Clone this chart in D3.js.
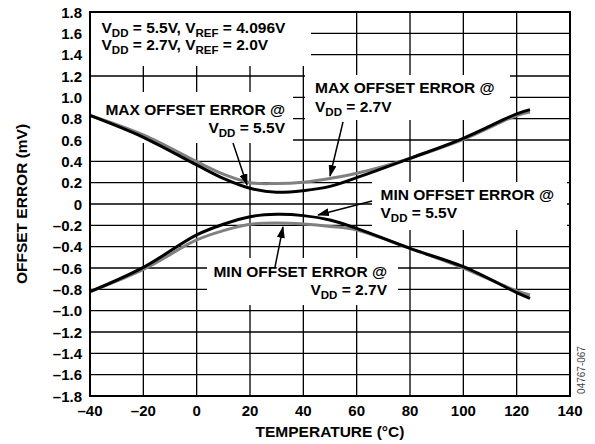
<!DOCTYPE html>
<html>
<head>
<meta charset="utf-8">
<script src="https://cdn.jsdelivr.net/npm/d3@7"></script>
<style>
  body { margin: 0; background: #fff; }
  svg text { font-family: "Liberation Sans", Arial, sans-serif; font-weight: bold; }
</style>
</head>
<body>
<div id="chart"></div>
<script>
// Daten
const temps = [-40, -20, 0, 10, 20, 30, 40, 50, 60, 80, 100, 120, 125];
const maxVdd55 = [0.83, 0.625, 0.366, 0.24, 0.147, 0.11, 0.125, 0.165, 0.247, 0.428, 0.616, 0.845, 0.885];
const maxVdd27 = [0.83, 0.647, 0.397, 0.28, 0.20, 0.192, 0.205, 0.24, 0.288, 0.428, 0.605, 0.83, 0.862];
const minVdd55 = [-0.822, -0.594, -0.29, -0.19, -0.119, -0.097, -0.109, -0.15, -0.228, -0.416, -0.588, -0.83, -0.884];
const minVdd27 = [-0.822, -0.613, -0.337, -0.25, -0.19, -0.178, -0.188, -0.21, -0.244, -0.416, -0.60, -0.815, -0.853];
const xTicks = [-40, -20, 0, 20, 40, 60, 80, 100, 120, 140];
const yTicks = d3.range(-9, 10).map(i => i * 0.2);

const width = 595, height = 444;
const margin = { left: 90, right: 25, top: 12, bottom: 48 };
const innerW = width - margin.left - margin.right;
const innerH = height - margin.top - margin.bottom;

const svg = d3.select("#chart").append("svg")
    .attr("width", width)
    .attr("height", height);

const x = d3.scaleLinear().domain([-40, 140]).range([margin.left, margin.left + innerW]);
const y = d3.scaleLinear().domain([-1.8, 1.8]).range([margin.top + innerH, margin.top]);

const fmt = v => {
    const s = Math.abs(v).toFixed(1);
    return (v < -1e-9 ? "\u2013" : "") + (Math.abs(v) < 1e-9 ? "0" : s);
};

// Gitter
svg.append("g").selectAll("line").data(xTicks.slice(1, -1)).join("line")
    .attr("x1", d => x(d)).attr("x2", d => x(d))
    .attr("y1", y(1.8)).attr("y2", y(-1.8))
    .attr("stroke", "#000").attr("stroke-width", 1.3);
svg.append("g").selectAll("line").data(yTicks.slice(1, -1)).join("line")
    .attr("x1", x(-40)).attr("x2", x(140))
    .attr("y1", d => y(d)).attr("y2", d => y(d))
    .attr("stroke", "#000").attr("stroke-width", 1.3);

// Weiße Kästen hinter den Beschriftungen
const boxes = [
    [91, 13, 220, 53],
    [91, 92, 202, 51],
    [305, 75, 205, 45],
    [372, 182, 195, 48],
    [207, 258, 191, 47]
];
svg.append("g").selectAll("rect").data(boxes).join("rect")
    .attr("x", d => d[0]).attr("y", d => d[1])
    .attr("width", d => d[2]).attr("height", d => d[3])
    .attr("fill", "#fff");

// Kurven
const line = d3.line()
    .x((d, i) => x(temps[i]))
    .y(d => y(d))
    .curve(d3.curveCatmullRom.alpha(0.5));

const series = [
    { vals: maxVdd27, color: "#808080" },
    { vals: maxVdd55, color: "#000" },
    { vals: minVdd27, color: "#808080" },
    { vals: minVdd55, color: "#000" }
];
svg.append("g").selectAll("path").data(series).join("path")
    .attr("d", d => line(d.vals))
    .attr("fill", "none")
    .attr("stroke", d => d.color)
    .attr("stroke-width", 3);

// Rahmen
svg.append("rect")
    .attr("x", margin.left).attr("y", margin.top)
    .attr("width", innerW).attr("height", innerH)
    .attr("fill", "none").attr("stroke", "#000").attr("stroke-width", 2);

// Achsenbeschriftungen
svg.append("g").selectAll("text").data(yTicks).join("text")
    .attr("x", 82).attr("y", d => y(d) + 5.5)
    .attr("text-anchor", "end")
    .attr("font-size", 15)
    .text(fmt);
svg.append("g").selectAll("text").data(xTicks).join("text")
    .attr("x", d => x(d)).attr("y", 415.5)
    .attr("text-anchor", "middle")
    .attr("font-size", 15)
    .text(d => (d < 0 ? "\u2013" + (-d) : d));

svg.append("text")
    .attr("x", x(50)).attr("y", 436.5)
    .attr("text-anchor", "middle").attr("font-size", 15.5)
    .text("TEMPERATURE (°C)");
svg.append("text")
    .attr("transform", `translate(26.5, ${y(0)}) rotate(-90)`)
    .attr("text-anchor", "middle").attr("font-size", 15.5)
    .text("OFFSET ERROR (mV)");

svg.append("text")
    .attr("transform", `translate(585, 370) rotate(-90)`)
    .attr("text-anchor", "middle").attr("font-size", 10)
    .style("font-weight", "normal")
    .attr("fill", "#444")
    .text("04767-067");

// Text mit Tiefstellung: Teile als [text, istTief]
function richText(px, py, parts, anchor) {
    const t = svg.append("text")
        .attr("x", px).attr("y", py)
        .attr("font-size", 15.5)
        .attr("text-anchor", anchor || "start");
    let lastLow = false;
    parts.forEach(([str, low]) => {
        if (low) {
            t.append("tspan").attr("dy", 4).attr("font-size", 11.5).text(str);
        } else {
            t.append("tspan").attr("dy", lastLow ? -4 : 0).text(str);
        }
        lastLow = !!low;
    });
    return t;
}

richText(101.5, 32.5, [["V"], ["DD", 1], [" = 5.5V, V"], ["REF", 1], [" = 4.096V"]]);
richText(101.5, 49.5, [["V"], ["DD", 1], [" = 2.7V, V"], ["REF", 1], [" = 2.0V"]]);

richText(285, 115, [["MAX OFFSET ERROR @"]], "end");
richText(285, 132.5, [["V"], ["DD", 1], [" = 5.5V"]], "end");

richText(315, 93.3, [["MAX OFFSET ERROR @"]]);
richText(315, 111.5, [["V"], ["DD", 1], [" = 2.7V"]]);

richText(380.5, 199.5, [["MIN OFFSET ERROR @"]]);
richText(380.5, 218, [["V"], ["DD", 1], [" = 5.5V"]]);

richText(387, 276.5, [["MIN OFFSET ERROR @"]], "end");
richText(387, 295, [["V"], ["DD", 1], [" = 2.7V"]], "end");

// Pfeile
svg.append("defs").append("marker")
    .attr("id", "arrow")
    .attr("viewBox", "0 0 12 8")
    .attr("refX", 11).attr("refY", 4)
    .attr("markerWidth", 12).attr("markerHeight", 8)
    .attr("markerUnits", "userSpaceOnUse")
    .attr("orient", "auto")
    .append("path").attr("d", "M0,0 L12,4 L0,8 z").attr("fill", "#000");

const arrows = [
    [233, 143, 247, 185],
    [343, 122, 330, 176],
    [372, 201, 318, 215],
    [275, 267, 283, 227]
];
svg.append("g").selectAll("line").data(arrows).join("line")
    .attr("x1", d => d[0]).attr("y1", d => d[1])
    .attr("x2", d => d[2]).attr("y2", d => d[3])
    .attr("stroke", "#000").attr("stroke-width", 1.5)
    .attr("marker-end", "url(#arrow)");
</script>
</body>
</html>
